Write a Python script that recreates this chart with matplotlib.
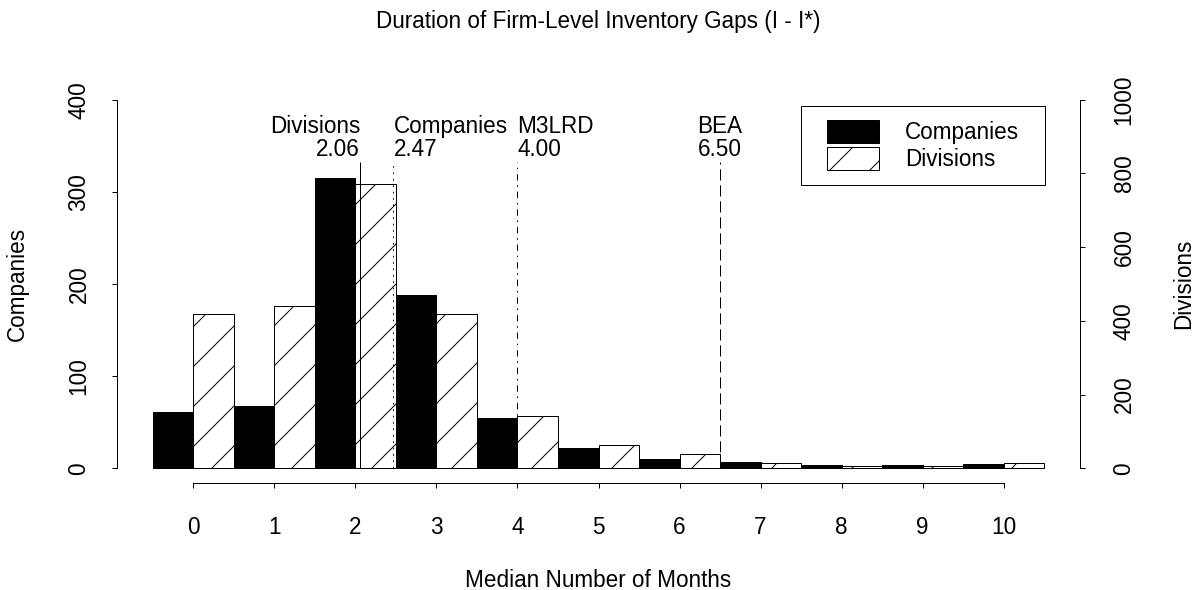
import matplotlib
matplotlib.use('Agg')
import matplotlib.pyplot as plt
import numpy as np
from matplotlib.patches import Rectangle
from matplotlib.legend_handler import HandlerPatch
from matplotlib.transforms import IdentityTransform

# data
months = np.arange(11)
companies = [61, 68, 315, 188, 55, 22, 10, 7, 3, 3, 5]
divisions = [418, 440, 770, 418, 142, 64, 39, 15, 6, 6, 15]

# reference medians (label, value, text alignment, line style)
median_names = ['Divisions', 'Companies', 'M3LRD', 'BEA']
median_values = [2.06, 2.47, 4.00, 6.50]
median_align = ['right', 'left', 'left', 'center']

comp_ticks = [0, 100, 200, 300, 400]
div_ticks = [0, 200, 400, 600, 800, 1000]

DPI = 240
PX = 72 / DPI          # points per pixel
FS = 22.5 * PX         # font size

plt.rcParams['font.family'] = ['Liberation Sans', 'DejaVu Sans']
plt.rcParams['font.size'] = FS
plt.rcParams['lines.scale_dashes'] = False
plt.rcParams['hatch.linewidth'] = 1.0 * PX
plt.rcParams['axes.linewidth'] = 1.0 * PX

u = 1.6 * PX
line_styles = ['-', (0, (u, 3 * u)), (0, (u, 3 * u, 4 * u, 3 * u)), (0, (7 * u, 3 * u))]

fig = plt.figure(figsize=(1197 / DPI, 590 / DPI), dpi=DPI)
ax = fig.add_axes([117 / 1197, 107 / 590, 963 / 1197, 398 / 590])
ax2 = ax.twinx()

comp_bars = ax.bar(months - 0.25, companies, width=0.5, color='black',
                   edgecolor='black', linewidth=PX)
div_bars = ax2.bar(months + 0.25, divisions, width=0.5, color='white',
                   edgecolor='black', hatch='//', linewidth=PX)

ax.set_xlim(-0.94, 10.94)
ax.set_ylim(-16, 416)
ax2.set_ylim(-40, 1040)

# median lines and their labels
line_top = 830
ax2.vlines(median_values, 0, line_top, colors='black', linewidth=PX,
           linestyles=line_styles)
for name, val, ha in zip(median_names, median_values, median_align):
    ax2.text(val, line_top + 5, f'{name}\n{val:.2f}', ha=ha, va='bottom',
             linespacing=1.0)

# axes styling, R-like
for s in ['top', 'right']:
    ax.spines[s].set_visible(False)
for s in ['top', 'left', 'bottom']:
    ax2.spines[s].set_visible(False)
ax.spines['left'].set_bounds(0, 400)
ax.spines['bottom'].set_bounds(0, 10)
ax2.spines['right'].set_bounds(0, 1000)

ax.set_xticks(months)
ax.set_yticks(comp_ticks, [str(t) for t in comp_ticks], rotation=90,
              ha='center', va='center')
ax2.set_yticks(div_ticks, [str(t) for t in div_ticks], rotation=90,
               ha='center', va='center')
ax.tick_params(axis='x', length=5 * PX, width=PX, pad=28 * PX)
ax.tick_params(axis='y', length=5 * PX, width=PX, pad=33 * PX)
ax2.tick_params(axis='y', length=5 * PX, width=PX, pad=39 * PX)

ax.set_xlabel('Median Number of Months', labelpad=29.6 * PX)
ax.set_ylabel('Companies')
ax.yaxis.set_label_coords(-0.0914, 0.5)
ax2.set_ylabel('Divisions')
ax2.yaxis.set_label_coords(1.0955, 0.5)
ax.set_title('Duration of Firm-Level Inventory Gaps (I - I*)', pad=57 * PX,
             fontsize=FS)

# legend
leg = ax2.legend([comp_bars.patches[0], div_bars.patches[0]],
                 ['Companies', 'Divisions'],
                 loc='upper left', bbox_to_anchor=(0.7103, 0.9472),
                 borderaxespad=0, borderpad=0.62, handlelength=2.86,
                 handleheight=1.19, handletextpad=1.14, labelspacing=0.115,
                 fancybox=False, framealpha=1, edgecolor='black',
                 handler_map={Rectangle: HandlerPatch(xpad=0.52)})
leg.get_frame().set_linewidth(PX)

# R's legend box has more room on the right than matplotlib gives
fig.canvas.draw()
bb = leg.get_window_extent()
leg.get_frame().set_visible(False)
fig.add_artist(Rectangle((bb.x0, bb.y0), bb.width + 12, bb.height,
                         transform=IdentityTransform(), fill=False,
                         edgecolor='black', linewidth=PX))

fig.savefig('out.png', dpi=DPI)
